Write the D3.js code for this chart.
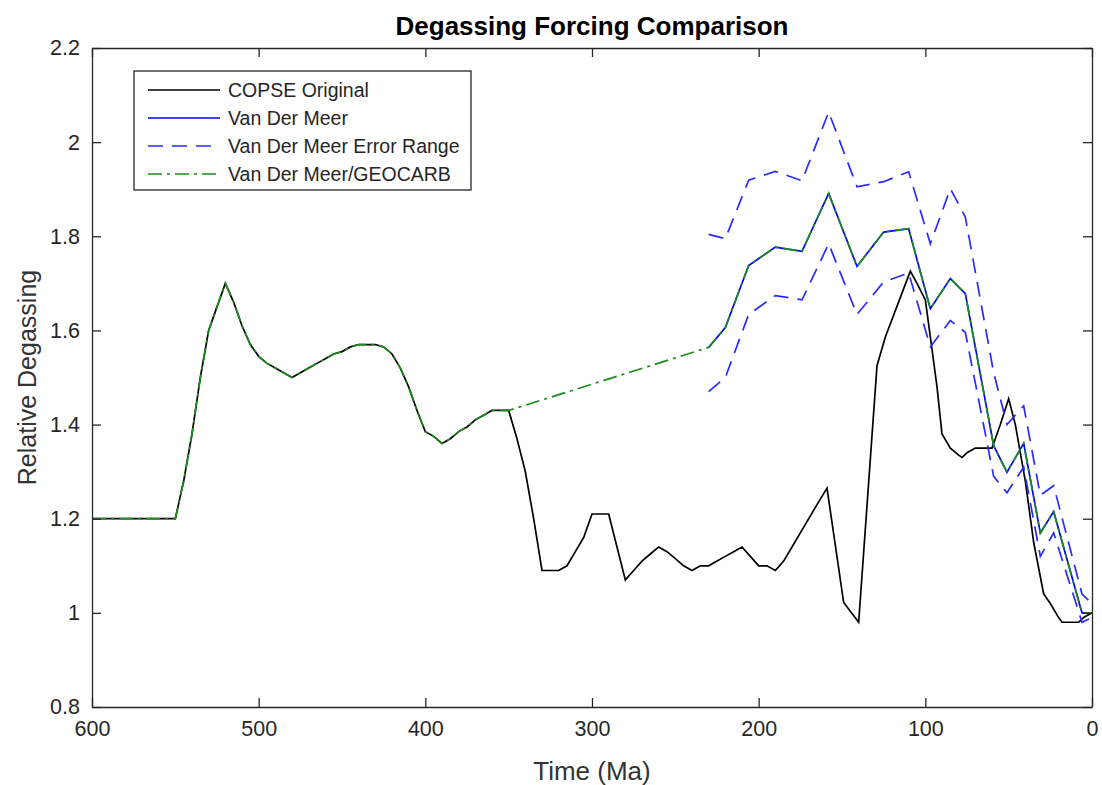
<!DOCTYPE html>
<html>
<head>
<meta charset="utf-8">
<script src="https://cdn.jsdelivr.net/npm/d3@7"></script>
<style>
  body { margin: 0; background: #fff; }
  text { font-family: "Liberation Sans", Arial, sans-serif; fill: #262626; }
</style>
</head>
<body>
<div id="chart"></div>
<script>
// COPSE original degassing [Ma, relative]
const copseAge = [600, 550, 545, 540, 535, 530, 525, 520, 515, 510, 505, 500, 495, 490, 485, 480,
  475, 470, 465, 460, 455, 450, 445, 440, 430, 425, 420, 415, 410, 405, 400, 395, 390, 385, 380,
  375, 370, 365, 360, 350, 345, 340, 335, 330, 320, 315, 310, 305, 300, 290, 285, 280, 275, 270,
  265, 260, 255, 250, 245, 240, 235, 230, 225, 220, 215, 210, 205, 200, 195, 190, 185, 180, 175,
  170, 165, 159, 149, 140, 129, 124, 109, 105, 100, 96, 93, 90, 85, 80, 78, 75, 70, 60, 55, 50,
  46, 40, 35, 29, 25, 20, 18, 8, 5, 0];
const copseVal = [1.2, 1.2, 1.28, 1.38, 1.5, 1.6, 1.65, 1.7, 1.66, 1.61, 1.57, 1.545, 1.53, 1.52, 1.51, 1.5,
  1.51, 1.52, 1.53, 1.54, 1.55, 1.555, 1.565, 1.57, 1.57, 1.565, 1.55, 1.52, 1.48, 1.43, 1.385, 1.375, 1.36, 1.37, 1.385,
  1.395, 1.41, 1.42, 1.43, 1.43, 1.37, 1.3, 1.2, 1.09, 1.09, 1.1, 1.13, 1.16, 1.21, 1.21, 1.14, 1.07, 1.09, 1.11,
  1.125, 1.14, 1.13, 1.115, 1.1, 1.09, 1.1, 1.1, 1.11, 1.12, 1.13, 1.14, 1.12, 1.1, 1.1, 1.09, 1.11, 1.14, 1.17,
  1.2, 1.23, 1.265, 1.022, 0.98, 1.525, 1.586, 1.726, 1.7, 1.665, 1.56, 1.48, 1.38, 1.35, 1.335, 1.33, 1.34, 1.35, 1.35, 1.4, 1.455,
  1.4, 1.28, 1.15, 1.04, 1.02, 0.99, 0.98, 0.98, 0.99, 1.0];

// Van Der Meer degassing with error range
const vdmAge = [230, 220, 206, 190, 174, 158, 141, 125, 110, 97, 85, 76, 59, 51, 41, 31, 23, 6, 0];
const vdmVal = [1.564, 1.606, 1.738, 1.777, 1.768, 1.891, 1.736, 1.809, 1.816, 1.646, 1.71, 1.678, 1.355, 1.299, 1.36, 1.17, 1.215, 1.0, 1.0];
const vdmHigh = [1.804, 1.795, 1.919, 1.938, 1.918, 2.064, 1.905, 1.916, 1.937, 1.784, 1.901, 1.841, 1.51, 1.40, 1.44, 1.25, 1.27, 1.04, 1.02];
const vdmLow = [1.47, 1.50, 1.634, 1.674, 1.665, 1.784, 1.634, 1.703, 1.722, 1.565, 1.621, 1.596, 1.29, 1.255, 1.31, 1.12, 1.17, 0.98, 0.99];

const xTicks = [600, 500, 400, 300, 200, 100, 0];
const yTicks = [0.8, 1, 1.2, 1.4, 1.6, 1.8, 2, 2.2];

const width = 1102, height = 785;
const margin = { top: 48, right: 10, bottom: 78, left: 92 };
const axisColor = '#262626';

const svg = d3.select('#chart').append('svg')
  .attr('width', width)
  .attr('height', height);

const x = d3.scaleLinear().domain([600, 0]).range([margin.left, width - margin.right]);
const y = d3.scaleLinear().domain([0.8, 2.2]).range([height - margin.bottom, margin.top]);

const zip = (a, b) => a.map((t, i) => ({ t: t, v: b[i] }));
const copse = zip(copseAge, copseVal);
const vdm = zip(vdmAge, vdmVal);
const high = zip(vdmAge, vdmHigh);
const low = zip(vdmAge, vdmLow);
// GEOCARB blend: COPSE before 350 Ma, then joined to Van Der Meer from 230 Ma
const geocarb = copse.filter(d => d.t >= 350).concat(vdm);

const line = d3.line().x(d => x(d.t)).y(d => y(d.v));

const plot = svg.append('g');
plot.append('path').datum(copse).attr('d', line)
  .attr('fill', 'none').attr('stroke', '#000').attr('stroke-width', 1.7);
plot.append('path').datum(vdm).attr('d', line)
  .attr('fill', 'none').attr('stroke', '#0000ff').attr('stroke-width', 1.7);
[high, low].forEach(s => {
  plot.append('path').datum(s).attr('d', line)
    .attr('fill', 'none').attr('stroke', '#2a2aff').attr('stroke-width', 1.7)
    .attr('stroke-dasharray', '15,9');
});
plot.append('path').datum(geocarb).attr('d', line)
  .attr('fill', 'none').attr('stroke', '#1a8c1a').attr('stroke-width', 1.7)
  .attr('stroke-dasharray', '14,5,3,5');

// axes box with inward ticks on all sides
const tickLen = 9;
const xAxisBottom = d3.axisBottom(x).tickValues(xTicks).tickSizeInner(-tickLen).tickSizeOuter(0).tickPadding(14);
const xAxisTop = d3.axisTop(x).tickValues(xTicks).tickSizeInner(-tickLen).tickSizeOuter(0).tickFormat('');
const yAxisLeft = d3.axisLeft(y).tickValues(yTicks).tickSizeInner(-tickLen).tickSizeOuter(0).tickPadding(12).tickFormat(d3.format('~g'));
const yAxisRight = d3.axisRight(y).tickValues(yTicks).tickSizeInner(-tickLen).tickSizeOuter(0).tickFormat('');

function styleAxis(g) {
  g.select('.domain').attr('stroke', axisColor).attr('stroke-width', 1.3);
  g.selectAll('.tick line').attr('stroke', axisColor).attr('stroke-width', 1.3);
  g.selectAll('.tick text').attr('font-size', 21.5).attr('fill', '#333')
    .style('font-family', '"Liberation Sans", Arial, sans-serif');
}

svg.append('g').attr('transform', `translate(0,${height - margin.bottom})`).call(xAxisBottom).call(styleAxis);
svg.append('g').attr('transform', `translate(0,${margin.top})`).call(xAxisTop).call(styleAxis);
svg.append('g').attr('transform', `translate(${margin.left},0)`).call(yAxisLeft).call(styleAxis);
svg.append('g').attr('transform', `translate(${width - margin.right},0)`).call(yAxisRight).call(styleAxis);

// labels
svg.append('text')
  .attr('x', (margin.left + width - margin.right) / 2).attr('y', 35)
  .attr('text-anchor', 'middle').attr('font-size', 26).attr('font-weight', 'bold')
  .style('fill', '#000')
  .text('Degassing Forcing Comparison');

svg.append('text')
  .attr('x', (margin.left + width - margin.right) / 2).attr('y', 780)
  .attr('text-anchor', 'middle').attr('font-size', 26)
  .style('fill', '#333')
  .text('Time (Ma)');

svg.append('text')
  .attr('transform', `translate(36,${(margin.top + height - margin.bottom) / 2}) rotate(-90)`)
  .attr('text-anchor', 'middle').attr('font-size', 25)
  .style('fill', '#333')
  .text('Relative Degassing');

// legend
const legendItems = [
  { name: 'COPSE Original', color: '#000', dash: null },
  { name: 'Van Der Meer', color: '#0000ff', dash: null },
  { name: 'Van Der Meer Error Range', color: '#2a2aff', dash: '15,9' },
  { name: 'Van Der Meer/GEOCARB', color: '#1a8c1a', dash: '14,5,3,5' }
];

const legend = svg.append('g').attr('transform', 'translate(134,71)');
legend.append('rect')
  .attr('width', 337).attr('height', 119)
  .attr('fill', '#fff').attr('stroke', axisColor).attr('stroke-width', 1.3);

legend.selectAll('g.item')
  .data(legendItems)
  .enter().append('g')
  .attr('class', 'item')
  .attr('transform', (d, i) => `translate(0,${19 + i * 28})`)
  .each(function(d) {
    const g = d3.select(this);
    g.append('line')
      .attr('x1', 14).attr('x2', 86).attr('y1', 0).attr('y2', 0)
      .attr('stroke', d.color).attr('stroke-width', 1.7)
      .attr('stroke-dasharray', d.dash);
    g.append('text')
      .attr('x', 94).attr('y', 7)
      .attr('font-size', 19.5)
      .text(d.name);
  });
</script>
</body>
</html>
